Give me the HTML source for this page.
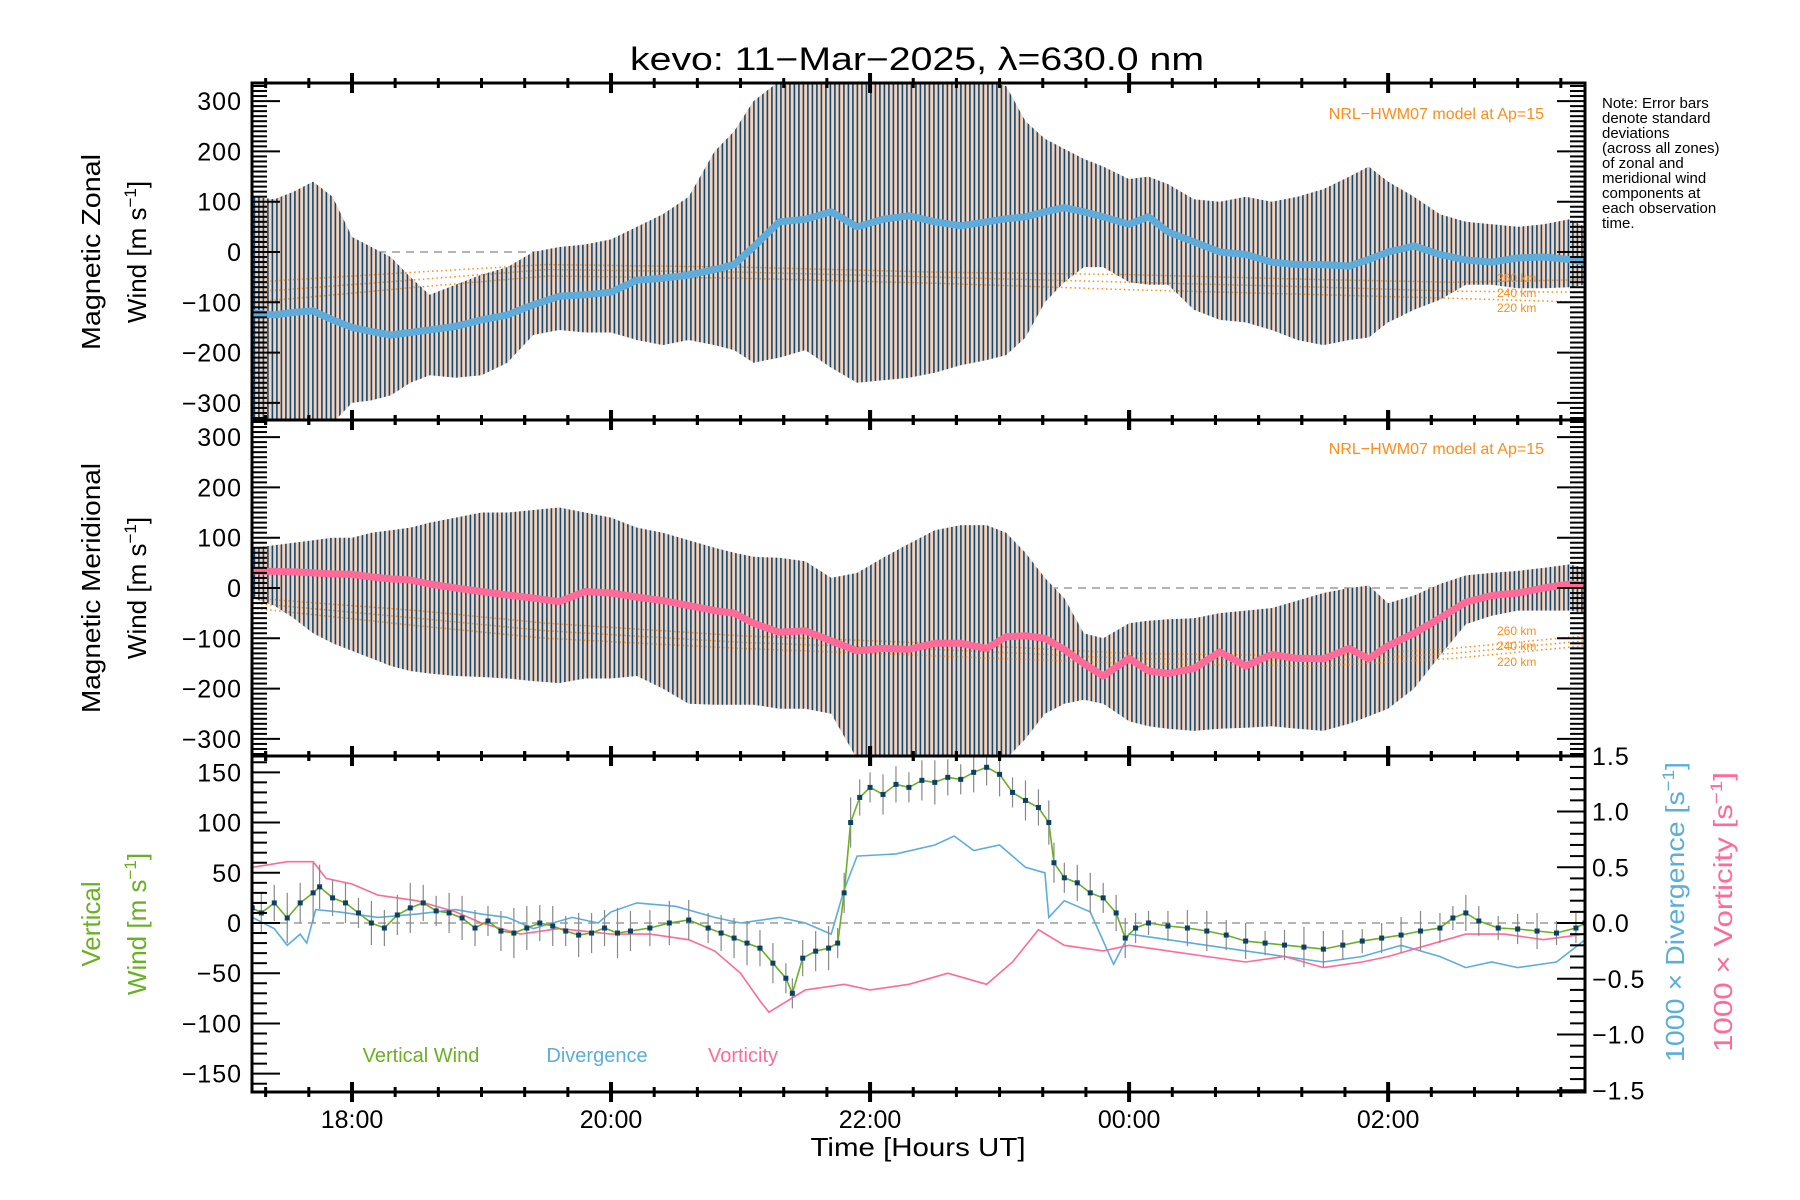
<!DOCTYPE html>
<html><head><meta charset="utf-8"><title>kevo wind chart</title>
<style>
html,body{margin:0;padding:0;background:#fff;}
svg{display:block;font-family:"Liberation Sans",sans-serif;}
</style></head>
<body>
<svg id="chart" width="1800" height="1200" viewBox="0 0 1800 1200" xmlns="http://www.w3.org/2000/svg">
<defs>
<pattern id="stripes" patternUnits="userSpaceOnUse" width="4.5" height="10">
<rect x="0" y="0" width="4.5" height="10" fill="#f5d2bc"/>
<rect x="1.6" y="0" width="1.6" height="10" fill="#0d4a76"/>
</pattern>
<clipPath id="clip1"><rect x="252" y="83" width="1333" height="337"/></clipPath>
<clipPath id="clip2"><rect x="252" y="420" width="1333" height="336"/></clipPath>
<clipPath id="clip3"><rect x="252" y="756" width="1333" height="336"/></clipPath>
</defs>
<text x="917" y="70" font-size="32" text-anchor="middle" textLength="574" lengthAdjust="spacingAndGlyphs">kevo: 11−Mar−2025, λ=630.0 nm</text>
<g id="p1"></g>
<g id="p2"></g>
<g id="p3"></g>
<g id="axes"></g>
<g font-size="15" fill="#000">
<text x="1602" y="108">Note: Error bars</text>
<text x="1602" y="123">denote standard</text>
<text x="1602" y="138">deviations</text>
<text x="1602" y="153">(across all zones)</text>
<text x="1602" y="168">of zonal and</text>
<text x="1602" y="183">meridional wind</text>
<text x="1602" y="198">components at</text>
<text x="1602" y="213">each observation</text>
<text x="1602" y="228">time.</text>
</g>
<text x="1544" y="119" font-size="16" fill="#ff8c1a" text-anchor="end">NRL−HWM07 model at Ap=15</text>
<text x="1544" y="454" font-size="16" fill="#ff8c1a" text-anchor="end">NRL−HWM07 model at Ap=15</text>
<g font-size="12" fill="#ff8c1a">
<text x="1497" y="282">260 km</text><text x="1497" y="297">240 km</text><text x="1497" y="312">220 km</text>
<text x="1497" y="635">260 km</text><text x="1497" y="650">240 km</text><text x="1497" y="666">220 km</text>
</g>
<g font-size="26">
<text transform="translate(100,252) rotate(-90)" text-anchor="middle" textLength="196" lengthAdjust="spacingAndGlyphs">Magnetic Zonal</text>
<text transform="translate(146,252) rotate(-90)" text-anchor="middle">Wind [m s<tspan font-size="17" dy="-10">−1</tspan><tspan dy="10">]</tspan></text>
<text transform="translate(100,588) rotate(-90)" text-anchor="middle" textLength="250" lengthAdjust="spacingAndGlyphs">Magnetic Meridional</text>
<text transform="translate(146,588) rotate(-90)" text-anchor="middle">Wind [m s<tspan font-size="17" dy="-10">−1</tspan><tspan dy="10">]</tspan></text>
<text transform="translate(100,924) rotate(-90)" text-anchor="middle" fill="#6ab023">Vertical</text>
<text transform="translate(146,924) rotate(-90)" text-anchor="middle" fill="#6ab023">Wind [m s<tspan font-size="17" dy="-10">−1</tspan><tspan dy="10">]</tspan></text>
<text transform="translate(1684,912) rotate(-90)" text-anchor="middle" fill="#5aaedc" textLength="300" lengthAdjust="spacingAndGlyphs">1000 × Divergence [s<tspan font-size="17" dy="-10">−1</tspan><tspan dy="10">]</tspan></text>
<text transform="translate(1732,912) rotate(-90)" text-anchor="middle" fill="#ff6a98" textLength="280" lengthAdjust="spacingAndGlyphs">1000 × Vorticity [s<tspan font-size="17" dy="-10">−1</tspan><tspan dy="10">]</tspan></text>
</g>
<g font-size="20">
<text x="421" y="1062" fill="#6ab023" text-anchor="middle">Vertical Wind</text>
<text x="597" y="1062" fill="#5aaedc" text-anchor="middle">Divergence</text>
<text x="743" y="1062" fill="#ff6a98" text-anchor="middle">Vorticity</text>
</g>
<text x="918" y="1156" font-size="26" text-anchor="middle" textLength="215" lengthAdjust="spacingAndGlyphs">Time [Hours UT]</text>
</svg>
<script>
// ---- data (times in hours UT; >24 means next day) ----
const mTimes = [17.23,17.4,17.55,17.7,17.85,18.0,18.15,18.3,18.45,18.6,18.8,19.0,19.2,19.4,19.6,19.8,20.0,20.2,20.4,20.6,20.8,20.95,21.1,21.3,21.5,21.7,21.9,22.1,22.3,22.5,22.7,22.9,23.05,23.2,23.35,23.5,23.65,23.8,24.0,24.15,24.3,24.5,24.7,24.9,25.1,25.3,25.5,25.7,25.85,26.0,26.2,26.4,26.6,26.8,27.0,27.2,27.4,27.52];
const zonalTop = [110,105,120,140,110,30,10,-10,-50,-85,-65,-45,-30,0,10,15,25,50,75,110,200,240,300,340,340,340,340,340,340,340,340,340,330,260,225,205,185,170,145,150,135,105,100,110,100,110,125,150,170,140,110,75,60,55,50,55,65,50];
const zonalBottom = [-340,-340,-340,-340,-340,-300,-295,-285,-260,-245,-250,-245,-220,-165,-155,-160,-160,-175,-185,-175,-185,-195,-220,-210,-195,-230,-260,-255,-250,-240,-225,-215,-205,-170,-100,-60,-30,-30,-60,-65,-65,-115,-135,-140,-155,-175,-185,-175,-170,-140,-115,-95,-65,-65,-72,-72,-70,-65];
const zonalMean = [-121,-125,-120,-117,-135,-150,-158,-165,-160,-155,-148,-135,-125,-105,-88,-85,-80,-56,-52,-46,-35,-25,10,60,65,80,50,65,72,60,52,60,66,70,80,88,80,70,55,70,40,20,0,-5,-20,-25,-25,-28,-15,0,12,-5,-16,-20,-12,-10,-15,-20];
const meridTop = [80,85,90,95,100,100,110,115,120,130,140,150,150,155,160,150,140,120,110,95,80,70,62,60,53,20,30,60,88,115,125,125,110,70,20,-20,-90,-100,-70,-65,-62,-60,-50,-45,-40,-25,-10,0,5,-30,-15,8,25,30,34,40,47,40];
const meridBottom = [-20,-35,-60,-90,-110,-125,-140,-155,-165,-170,-175,-177,-180,-185,-189,-180,-180,-175,-200,-230,-232,-232,-232,-240,-240,-250,-340,-340,-340,-340,-340,-340,-340,-300,-250,-230,-222,-230,-265,-275,-280,-284,-280,-278,-275,-280,-284,-270,-255,-240,-200,-135,-72,-55,-45,-45,-45,-50];
const meridMean = [34,33,32,30,28,27,22,18,16,8,0,-7,-14,-20,-27,-7,-10,-18,-25,-35,-45,-50,-70,-88,-85,-105,-125,-120,-122,-110,-110,-120,-97,-95,-100,-122,-150,-175,-140,-165,-170,-160,-127,-155,-132,-140,-141,-120,-141,-115,-90,-60,-28,-15,-10,0,8,5];
const modelTimes = [17.23,18.5,19.5,21.0,22.5,24.0,25.5,26.5,27.52];
const zonalModel260 = [-60,-40,-25,-30,-40,-45,-55,-60,-55];
const zonalModel240 = [-80,-55,-35,-40,-50,-60,-70,-78,-80];
const zonalModel220 = [-100,-70,-48,-52,-62,-75,-85,-92,-100];
const meridModel260 = [-20,-45,-70,-95,-110,-130,-135,-120,-95];
const meridModel240 = [-30,-60,-85,-108,-122,-140,-145,-130,-105];
const meridModel220 = [-40,-75,-100,-120,-135,-150,-155,-140,-115];
const wTimes = [17.23,17.3,17.4,17.5,17.6,17.7,17.75,17.85,17.95,18.05,18.15,18.25,18.35,18.45,18.55,18.65,18.75,18.85,18.95,19.05,19.15,19.25,19.35,19.45,19.55,19.65,19.75,19.85,19.95,20.05,20.15,20.3,20.45,20.6,20.75,20.85,20.95,21.05,21.15,21.25,21.35,21.4,21.48,21.58,21.68,21.75,21.8,21.85,21.92,22.0,22.1,22.2,22.3,22.4,22.5,22.6,22.7,22.8,22.9,23.0,23.1,23.2,23.3,23.38,23.42,23.5,23.6,23.7,23.8,23.9,23.97,24.05,24.15,24.3,24.45,24.6,24.75,24.9,25.05,25.2,25.35,25.5,25.65,25.8,25.95,26.1,26.25,26.4,26.5,26.6,26.7,26.85,27.0,27.15,27.3,27.45,27.52];
const vertWind = [15,10,20,5,20,30,36,25,20,10,0,-5,8,15,20,12,10,5,-5,2,-8,-10,-5,0,-3,-8,-12,-10,-5,-10,-8,-5,0,3,-5,-10,-15,-20,-25,-40,-55,-70,-35,-28,-25,-20,30,100,125,135,128,138,135,142,140,145,143,150,155,148,130,122,115,100,60,45,40,30,25,10,-15,-5,0,-3,-5,-8,-12,-18,-20,-22,-24,-26,-22,-18,-15,-12,-8,-5,5,10,2,-5,-6,-8,-10,-5,0];
const vertErr = [15,20,18,25,20,30,22,18,20,15,22,18,20,25,18,15,20,22,18,15,20,25,22,18,20,15,22,20,18,25,20,18,22,20,15,18,20,22,18,20,15,15,18,20,22,15,20,25,18,15,20,18,15,20,22,18,15,20,18,22,15,20,18,22,20,15,18,20,15,18,20,15,12,15,18,20,15,18,12,15,20,18,15,12,15,18,20,15,12,18,15,12,15,18,12,15,12];
const dvTimes = [17.23,17.4,17.5,17.6,17.65,17.72,17.9,18.2,18.5,18.8,19.0,19.2,19.4,19.7,19.9,20.0,20.2,20.5,20.8,21.0,21.3,21.5,21.7,21.8,21.9,22.2,22.5,22.65,22.8,23.0,23.2,23.35,23.38,23.5,23.6,23.7,23.88,24.0,24.3,24.6,24.9,25.2,25.5,25.8,26.1,26.4,26.6,26.8,27.0,27.3,27.52];
const divergence = [0.05,-0.05,-0.2,-0.1,-0.18,0.12,0.1,0.05,0.08,0.12,0.08,0.05,-0.05,0.05,0.0,0.1,0.18,0.15,0.05,0.0,0.05,0.0,-0.1,0.3,0.6,0.62,0.7,0.78,0.65,0.7,0.5,0.45,0.05,0.2,0.15,0.1,-0.37,-0.1,-0.15,-0.2,-0.25,-0.3,-0.35,-0.3,-0.2,-0.3,-0.4,-0.35,-0.4,-0.35,-0.15];
const vtTimes = [17.23,17.5,17.7,17.8,18.0,18.2,18.5,18.8,19.0,19.3,19.6,20.0,20.3,20.6,20.8,21.0,21.15,21.22,21.5,21.8,22.0,22.3,22.6,22.9,23.1,23.3,23.5,23.8,24.0,24.3,24.6,24.9,25.2,25.5,25.8,26.0,26.3,26.6,26.9,27.2,27.52];
const vorticity = [0.5,0.55,0.55,0.4,0.35,0.25,0.2,0.1,0.0,-0.1,-0.05,-0.1,-0.1,-0.15,-0.25,-0.45,-0.7,-0.8,-0.6,-0.55,-0.6,-0.55,-0.45,-0.55,-0.35,-0.06,-0.2,-0.25,-0.2,-0.25,-0.3,-0.35,-0.3,-0.4,-0.35,-0.3,-0.2,-0.1,-0.1,-0.15,-0.1];
const zonalTicks = [-300,-200,-100,0,100,200,300];
const vertTicks = [-150,-100,-50,0,50,100,150];
const rightTicks = [-1.5,-1.0,-0.5,0.0,0.5,1.0,1.5];
const timeTicks = [18,20,22,24,26];
const timeLabels = ["18:00","20:00","22:00","00:00","02:00"];

// ---- scales ----
const NS = "http://www.w3.org/2000/svg";
const X0 = 252, X1 = 1585, T0 = 17.228, T1 = 27.52;
function xs(t){ return X0 + (t - T0) * (X1 - X0) / (T1 - T0); }
function yWind(base){ return v => base - v * 0.503; }
const y1 = yWind(252), y2 = yWind(588);
function y3(v){ return 923 - v * 1.0045; }
function yR(v){ return 923 - v * 111.5; }
function el(tag, attrs, parent){ const e = document.createElementNS(NS, tag); for (const k in attrs) e.setAttribute(k, attrs[k]); parent.appendChild(e); return e; }
function linePath(ts, vs, ys){ return ts.map((t,i)=>(i?"L":"M")+xs(t).toFixed(1)+","+ys(vs[i]).toFixed(1)).join(""); }
function bandPath(ts, top, bot, ys){
  let d = ts.map((t,i)=>(i?"L":"M")+xs(t).toFixed(1)+","+ys(top[i]).toFixed(1)).join("");
  for (let i = ts.length-1; i >= 0; i--) d += "L"+xs(ts[i]).toFixed(1)+","+ys(bot[i]).toFixed(1);
  return d + "Z";
}
const p1 = document.getElementById("p1"), p2 = document.getElementById("p2"), p3 = document.getElementById("p3"), ax = document.getElementById("axes");
p1.setAttribute("clip-path","url(#clip1)"); p2.setAttribute("clip-path","url(#clip2)"); p3.setAttribute("clip-path","url(#clip3)");

function windPanel(g, ys, top, bot, mean, meanColor, m260, m240, m220, prefix){
  const z = el("line",{x1:X0,x2:X1,y1:ys(0),y2:ys(0),stroke:"#888","stroke-dasharray":"8,6","stroke-width":1.2},g);
  
  
  const band = el("path",{d:bandPath(mTimes,top,bot,ys),fill:"url(#stripes)"},g);
  
  
  [m260,m240,m220].forEach((arr,k)=>{
    const m = el("path",{d:linePath(modelTimes,arr,ys),fill:"none",stroke:"#ff8c1a","stroke-width":1.5,"stroke-dasharray":"1.5,3"},g);
    
    
  });
  const ml = el("path",{d:linePath(mTimes,mean,ys),fill:"none",stroke:meanColor,"stroke-width":7,"stroke-linejoin":"round"},g);
  
  
}
windPanel(p1,y1,zonalTop,zonalBottom,zonalMean,"#5fabd9",zonalModel260,zonalModel240,zonalModel220,"zonal");
windPanel(p2,y2,meridTop,meridBottom,meridMean,"#ff6a98",meridModel260,meridModel240,meridModel220,"meridional");

// panel 3
const z3 = el("line",{x1:X0,x2:X1,y1:y3(0),y2:y3(0),stroke:"#888","stroke-dasharray":"8,6","stroke-width":1.2},p3);


const dvl = el("path",{d:linePath(dvTimes,divergence,yR),fill:"none",stroke:"#5aaedc","stroke-width":1.6},p3);


const vtl = el("path",{d:linePath(vtTimes,vorticity,yR),fill:"none",stroke:"#ff6a98","stroke-width":1.6},p3);


wTimes.forEach((t,i)=>{
  const e = el("line",{x1:xs(t),x2:xs(t),y1:y3(vertWind[i]+vertErr[i]),y2:y3(vertWind[i]-vertErr[i]),stroke:"#888","stroke-width":1.2},p3);
  
  
});
const vwl = el("path",{d:linePath(wTimes,vertWind,y3),fill:"none",stroke:"#6ab023","stroke-width":1.6},p3);


wTimes.forEach((t,i)=>{
  const p = el("rect",{x:xs(t)-2.5,y:y3(vertWind[i])-2.5,width:5,height:5,fill:"#0d4066"},p3);
  
  
});

// ---- axes ----
const panels = [[83,420,y1,-335,335],[420,756,y2,-335,335],[756,1092,y3,-168,168]];
panels.forEach((p,pi)=>{
  const [top,bot,ys,lo,hi] = p;
  const fr = el("rect",{x:X0,y:top,width:X1-X0,height:bot-top,fill:"none",stroke:"#000","stroke-width":3},ax);
  
  
  for (let v = Math.ceil(lo/10)*10; v <= hi; v += 10){
    const y = ys(v); if (y < top || y > bot) continue;
    const major = (pi < 2 ? v % 100 === 0 : v % 50 === 0);
    const len = major ? 28 : 15;
    el("line",{x1:X0,x2:X0+len,y1:y,y2:y,stroke:"#000","stroke-width":2},ax);
    if (pi < 2) el("line",{x1:X1,x2:X1-len,y1:y,y2:y,stroke:"#000","stroke-width":2},ax);
  }
  const ticks = pi < 2 ? zonalTicks : vertTicks;
  ticks.forEach(v=>{
    const t = el("text",{x:242,y:ys(v)+9,"font-size":25,"text-anchor":"end","letter-spacing":"1"},ax);
    t.textContent = (v<0?"−":"")+Math.abs(v);
    
    
  });
  for (let m = 18*60 - 40; m <= T1*60; m += 20){
    const t = m/60; if (t < T0) continue;
    const x = xs(t); const major = (m % 120 === 0);
    const len = major ? 10 : 5;
    el("line",{x1:x,x2:x,y1:top-len,y2:top+len,stroke:"#000","stroke-width":major?4:3},ax);
    el("line",{x1:x,x2:x,y1:bot-len,y2:bot+len,stroke:"#000","stroke-width":major?4:3},ax);
  }
});
for (let k = -15; k <= 15; k++){
  const v = k/10, y = yR(v); if (y < 756 || y > 1092) continue;
  const major = (k % 5 === 0);
  el("line",{x1:X1,x2:X1-(major?28:15),y1:y,y2:y,stroke:"#000","stroke-width":2},ax);
}
rightTicks.forEach(v=>{
  const t = el("text",{x:1592,y:yR(v)+9,"font-size":25,"letter-spacing":"1"},ax);
  t.textContent = (v<0?"−":"")+Math.abs(v).toFixed(1);
  
  
});
timeTicks.forEach((t,i)=>{
  const tx = el("text",{x:xs(t),y:1128,"font-size":25,"text-anchor":"middle"},ax);
  tx.textContent = timeLabels[i];
  
  
});
</script>
</body></html>
